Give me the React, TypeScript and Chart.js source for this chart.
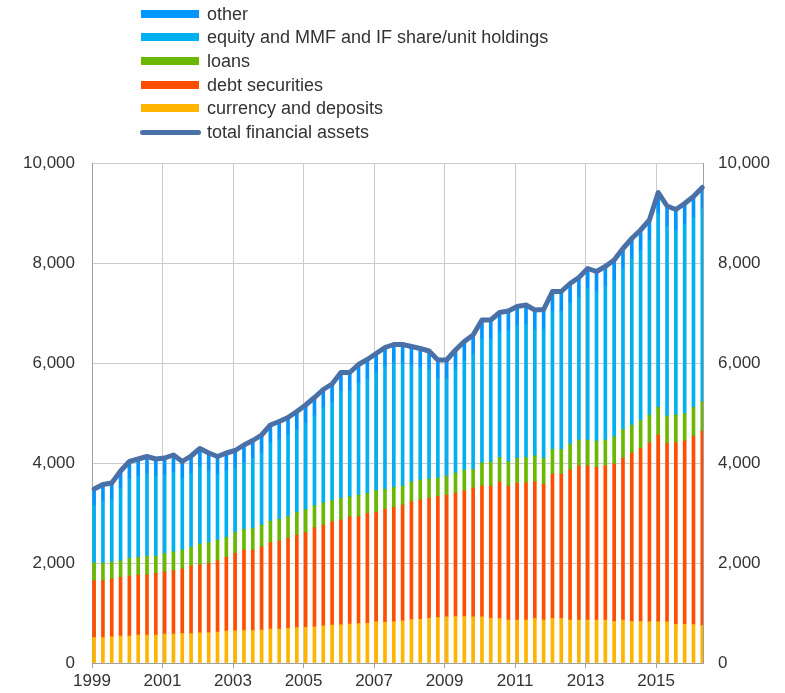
import React, { useEffect, useRef } from 'react';
import { Chart, registerables } from 'chart.js';

Chart.register(...registerables);

// ---- Data (EUR bn, quarterly 1999Q1 – 2016Q2) ----
const START_YEAR = 1999;
const QUARTER_COUNT = 70;
const yearTicks = [1999, 2001, 2003, 2005, 2007, 2009, 2011, 2013, 2015];
const valueTicks = [0, 2000, 4000, 6000, 8000, 10000];

const currencyAndDeposits = [
  510, 510, 525, 540, 540, 560, 560, 560, 580, 580,
  590, 590, 605, 605, 620, 640, 645, 650, 650, 660,
  680, 680, 695, 710, 715, 725, 745, 760, 765, 780,
  790, 795, 825, 815, 825, 845, 870, 875, 895, 910,
  925, 930, 930, 925, 925, 895, 890, 860, 860, 860,
  890, 860, 890, 890, 860, 860, 860, 860, 860, 830,
  860, 830, 830, 825, 825, 825, 775, 775, 770, 750,
];
const debtSecurities = [
  1135, 1135, 1155, 1175, 1200, 1200, 1200, 1235, 1245, 1265,
  1290, 1350, 1360, 1390, 1425, 1475, 1550, 1610, 1610, 1665,
  1725, 1760, 1800, 1850, 1890, 1980, 2015, 2065, 2095, 2145,
  2135, 2200, 2190, 2260, 2290, 2315, 2355, 2385, 2405, 2420,
  2435, 2470, 2510, 2575, 2615, 2645, 2735, 2680, 2735, 2745,
  2735, 2720, 2890, 2890, 3000, 3085, 3085, 3055, 3085, 3150,
  3240, 3370, 3465, 3580, 3735, 3570, 3630, 3670, 3770, 3890,
];
const loans = [
  360, 355, 345, 330, 355, 355, 380, 345, 365, 380,
  380, 375, 415, 415, 415, 400, 415, 415, 435, 435,
  435, 435, 435, 455, 465, 440, 445, 425, 435, 400,
  435, 400, 435, 400, 400, 380, 400, 400, 380, 370,
  380, 400, 420, 375, 465, 485, 485, 485, 500, 505,
  520, 515, 495, 495, 520, 515, 515, 525, 515, 545,
  575, 560, 555, 555, 555, 545, 555, 545, 575, 585,
];
const equityHoldings = [
  1145, 1240, 1245, 1455, 1595, 1625, 1650, 1600, 1570, 1595,
  1430, 1485, 1560, 1440, 1320, 1335, 1290, 1335, 1405, 1450,
  1570, 1595, 1620, 1655, 1730, 1805, 1905, 1960, 2145, 2115,
  2240, 2305, 2370, 2465, 2485, 2460, 2335, 2260, 2190, 1990,
  1950, 2080, 2190, 2305, 2475, 2455, 2520, 2635, 2655, 2660,
  2525, 2585, 2765, 2765, 2820, 2860, 3030, 2990, 3070, 3135,
  3215, 3330, 3400, 3490, 3875, 3790, 3700, 3790, 3795, 3865,
];
const other = [
  330, 330, 330, 340, 340, 340, 340, 340, 340, 340,
  340, 340, 350, 350, 350, 350, 350, 350, 350, 350,
  350, 360, 360, 360, 360, 360, 360, 370, 370, 370,
  370, 370, 370, 370, 370, 370, 370, 370, 370, 370,
  370, 380, 380, 380, 380, 380, 380, 380, 380, 390,
  390, 390, 390, 390, 390, 390, 400, 400, 400, 400,
  400, 400, 410, 410, 420, 410, 410, 410, 420, 420,
];
const totalFinancialAssets = [
  3480, 3570, 3600, 3840, 4030, 4080, 4130, 4080, 4100, 4160,
  4030, 4140, 4290, 4200, 4130, 4200, 4250, 4360, 4450, 4560,
  4760, 4830, 4910, 5030, 5160, 5310, 5470, 5580, 5810, 5810,
  5970, 6070, 6190, 6310, 6370, 6370, 6330, 6290, 6240, 6060,
  6060, 6260, 6430, 6560, 6860, 6860, 7010, 7040, 7130, 7160,
  7060, 7070, 7430, 7430, 7590, 7710, 7890, 7830, 7930, 8060,
  8290, 8490, 8660, 8860, 9410, 9140, 9070, 9190, 9330, 9510,
];

// quarter positions as decimal years
const periods = Array.from({ length: QUARTER_COUNT }, (_, i) => START_YEAR + i / 4);

// ---- Styles ----
const COLORS = {
  other: '#0096FF',
  equity: '#00B0F0',
  loans: '#6AB900',
  debt: '#FF4E00',
  currency: '#FFB400',
  total: '#4A70A8',
  grid: '#cbcbcb',
  axis: '#a0a0a0',
  text: '#333333',
};
const FONT = '"Liberation Sans", Arial, sans-serif';

const legendItems = [
  { label: 'other', color: COLORS.other, line: false },
  { label: 'equity and MMF and IF share/unit holdings', color: COLORS.equity, line: false },
  { label: 'loans', color: COLORS.loans, line: false },
  { label: 'debt securities', color: COLORS.debt, line: false },
  { label: 'currency and deposits', color: COLORS.currency, line: false },
  { label: 'total financial assets', color: COLORS.total, line: true },
];

const toPoints = (arr: number[]) => periods.map((x, i) => ({ x, y: arr[i] }));

export default function App() {
  const canvasRef = useRef<HTMLCanvasElement | null>(null);

  useEffect(() => {
    if (!canvasRef.current) return;
    Chart.defaults.font.family = FONT;
    Chart.defaults.color = COLORS.text;

    const barBase = {
      type: 'bar' as const,
      xAxisID: 'x',
      yAxisID: 'y',
      barThickness: 3,
      borderWidth: 0,
      order: 1,
      stack: 'assets',
    };

    const chart = new Chart(canvasRef.current, {
      type: 'bar',
      data: {
        datasets: [
          {
            type: 'line',
            label: 'total financial assets',
            data: toPoints(totalFinancialAssets),
            xAxisID: 'x',
            yAxisID: 'y',
            borderColor: COLORS.total,
            backgroundColor: COLORS.total,
            borderWidth: 5,
            pointRadius: 0,
            tension: 0,
            borderJoinStyle: 'round',
            borderCapStyle: 'round',
            order: 0,
            stack: 'total',
            clip: false,
          } as any,
          { ...barBase, label: 'currency and deposits', data: toPoints(currencyAndDeposits), backgroundColor: COLORS.currency },
          { ...barBase, label: 'debt securities', data: toPoints(debtSecurities), backgroundColor: COLORS.debt },
          { ...barBase, label: 'loans', data: toPoints(loans), backgroundColor: COLORS.loans },
          { ...barBase, label: 'equity and MMF and IF share/unit holdings', data: toPoints(equityHoldings), backgroundColor: COLORS.equity },
          { ...barBase, label: 'other', data: toPoints(other), backgroundColor: COLORS.other },
        ],
      },
      options: {
        responsive: false,
        animation: false,
        layout: { padding: { top: 163, left: 0, right: 0, bottom: 0 } },
        plugins: { legend: { display: false }, tooltip: { enabled: false } },
        scales: {
          x: {
            type: 'linear',
            axis: 'x',
            display: false,
            stacked: true,
            offset: false,
            grid: { offset: false },
            min: START_YEAR - 0.06,
            max: START_YEAR + (QUARTER_COUNT - 1) / 4 + 0.02,
          },
          years: {
            type: 'linear',
            axis: 'x',
            position: 'bottom',
            offset: false,
            min: START_YEAR,
            max: START_YEAR + 17.33,
            afterBuildTicks: (scale: any) => {
              scale.ticks = yearTicks.map((v) => ({ value: v }));
            },
            afterFit: (scale: any) => {
              scale.height = 30;
            },
            grid: {
              offset: false,
              color: COLORS.grid,
              tickColor: COLORS.axis,
              tickLength: 5,
              drawTicks: true,
            },
            border: { color: COLORS.axis, width: 1 },
            ticks: {
              autoSkip: false,
              maxRotation: 0,
              padding: 3,
              font: { size: 17, family: FONT },
              color: COLORS.text,
              callback: (v: any) => String(v),
            },
          },
          y: {
            type: 'linear',
            axis: 'y',
            position: 'left',
            stacked: true,
            min: 0,
            max: 10000,
            afterBuildTicks: (scale: any) => {
              scale.ticks = valueTicks.map((v) => ({ value: v }));
            },
            afterFit: (scale: any) => {
              scale.width = 92;
            },
            grid: { color: COLORS.grid, drawTicks: false },
            border: { color: COLORS.axis, width: 1 },
            ticks: {
              padding: 17,
              font: { size: 17, family: FONT },
              color: COLORS.text,
              callback: (v: any) => Number(v).toLocaleString('en-US'),
            },
          },
          y2: {
            type: 'linear',
            axis: 'y',
            position: 'right',
            min: 0,
            max: 10000,
            afterBuildTicks: (scale: any) => {
              scale.ticks = valueTicks.map((v) => ({ value: v }));
            },
            afterFit: (scale: any) => {
              scale.width = 82;
            },
            grid: { display: false, drawTicks: false },
            border: { display: true, color: COLORS.axis, width: 1 },
            ticks: {
              padding: 15,
              font: { size: 17, family: FONT },
              color: COLORS.text,
              callback: (v: any) => Number(v).toLocaleString('en-US'),
            },
          },
        },
      } as any,
    });

    return () => chart.destroy();
  }, []);

  return (
    <div style={{ position: 'fixed', left: 0, top: 0, width: 785, height: 693, background: '#fff' }}>
      <canvas ref={canvasRef} width={785} height={693} style={{ display: 'block', width: 785, height: 693 }} />
      {legendItems.map((item, i) => {
        const center = 13.5 + i * 23.7;
        return (
          <div
            key={item.label}
            style={{
              position: 'absolute',
              left: 0,
              top: center - 12,
              height: 24,
              display: 'flex',
              alignItems: 'center',
              fontFamily: FONT,
              fontSize: 18,
              color: COLORS.text,
              whiteSpace: 'nowrap',
            }}
          >
            <span
              style={{
                position: 'absolute',
                left: item.line ? 140 : 141,
                width: item.line ? 61 : 58,
                height: item.line ? 5 : 8,
                borderRadius: item.line ? 3 : 0,
                background: item.color,
                top: item.line ? 10 : 8,
              }}
            />
            <span style={{ position: 'absolute', left: 207, lineHeight: '24px', top: 0 }}>{item.label}</span>
          </div>
        );
      })}
    </div>
  );
}
